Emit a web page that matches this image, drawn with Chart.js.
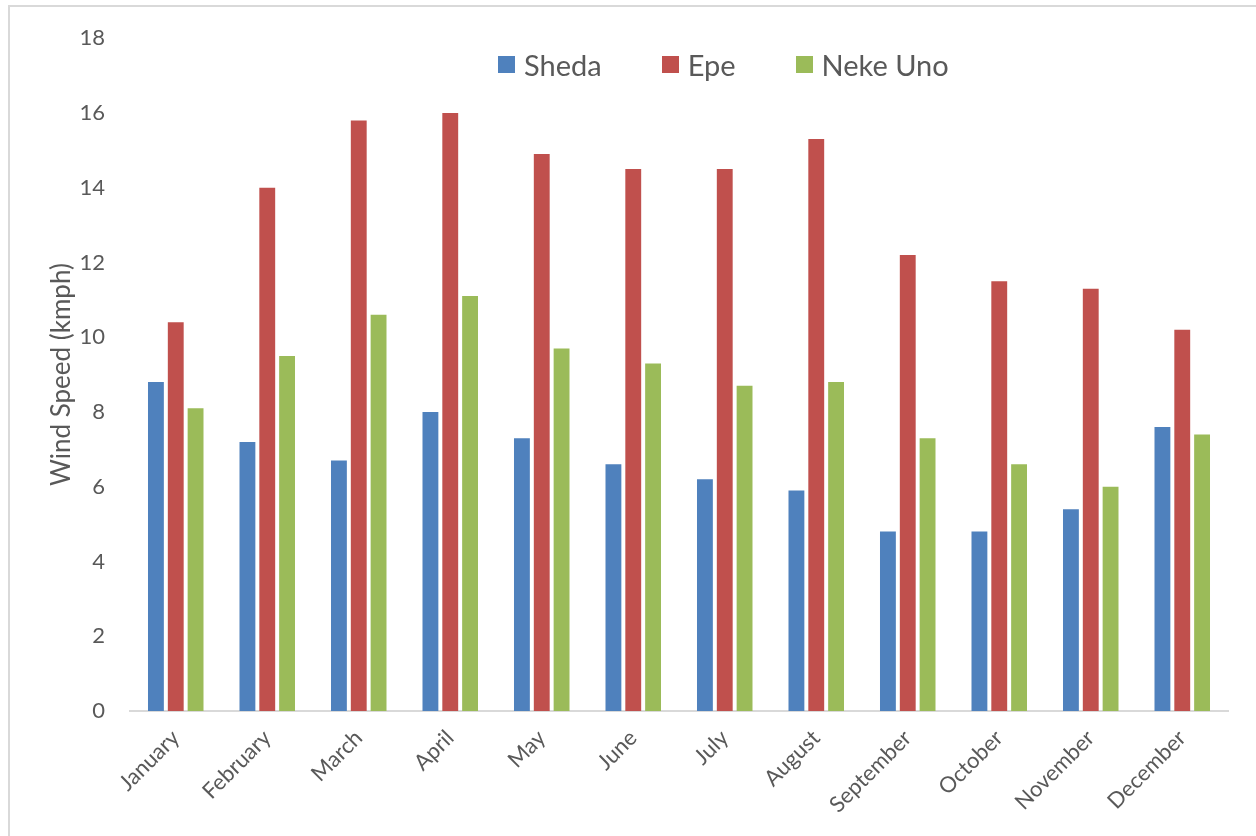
<!DOCTYPE html>
<html>
<head>
<meta charset="utf-8">
<script src="https://cdn.jsdelivr.net/npm/chart.js@4.4.1/dist/chart.umd.min.js"></script>
<style>
    html, body { margin: 0; padding: 0; background: #fff; overflow: hidden; }
    #frame {
        position: absolute; left: 8px; top: 5px; width: 1400px; height: 1000px;
        border: 2px solid #d9d9d9; box-sizing: border-box;
    }
    #windChart { position: absolute; left: 0; top: 0; }
    #legend {
        position: absolute; left: 498px; top: 47px; display: flex; align-items: center;
        font-family: Lato, "Open Sans", sans-serif; font-size: 29px; color: #595959;
    }
    #legend .item { display: flex; align-items: center; margin-right: 60px; }
    #legend .box { width: 17px; height: 17px; margin-right: 9px; }
</style>
</head>
<body>
<div id="frame"></div>
<canvas id="windChart" width="1256" height="836"></canvas>
<div id="legend"></div>
<script>
// Data
const months = ['January', 'February', 'March', 'April', 'May', 'June',
    'July', 'August', 'September', 'October', 'November', 'December'];
const sheda = [8.8, 7.2, 6.7, 8.0, 7.3, 6.6, 6.2, 5.9, 4.8, 4.8, 5.4, 7.6];
const epe = [10.4, 14.0, 15.8, 16.0, 14.9, 14.5, 14.5, 15.3, 12.2, 11.5, 11.3, 10.2];
const nekeUno = [8.1, 9.5, 10.6, 11.1, 9.7, 9.3, 8.7, 8.8, 7.3, 6.6, 6.0, 7.4];
const yTicks = [0, 2, 4, 6, 8, 10, 12, 14, 16, 18];

const seriesNames = ['Sheda', 'Epe', 'Neke Uno'];
const seriesColors = ['#4f81bd', '#c0504d', '#9bbb59'];
const textColor = '#595959';
const fontFamily = 'Lato, "Open Sans", sans-serif';

const datasets = [sheda, epe, nekeUno].map((values, i) => ({
    label: seriesNames[i],
    data: values,
    backgroundColor: seriesColors[i],
    categoryPercentage: 0.65,
    barPercentage: 0.8
}));

// Grafiek
const ctx = document.getElementById('windChart').getContext('2d');
new Chart(ctx, {
    type: 'bar',
    data: {
        labels: months,
        datasets: datasets
    },
    options: {
        responsive: false,
        animation: false,
        layout: { padding: { top: 36, right: 28, left: 0, bottom: 0 } },
        plugins: {
            legend: { display: false },
            tooltip: { enabled: false }
        },
        scales: {
            x: {
                grid: { display: false, drawTicks: false },
                border: { display: true, color: '#d9d9d9', width: 2 },
                ticks: {
                    color: textColor,
                    font: { family: fontFamily, size: 22 },
                    maxRotation: 45,
                    minRotation: 45,
                    padding: 14
                },
                afterFit: scale => { scale.height = 125; }
            },
            y: {
                min: 0,
                max: 18,
                grid: { display: false, drawTicks: false },
                border: { display: false },
                afterBuildTicks: scale => {
                    scale.ticks = yTicks.map(v => ({ value: v }));
                },
                ticks: {
                    color: textColor,
                    font: { family: fontFamily, size: 22 },
                    padding: 25
                },
                title: {
                    display: true,
                    text: 'Wind Speed (kmph)',
                    color: textColor,
                    font: { family: fontFamily, size: 26 },
                    padding: { top: 46, bottom: 0 }
                },
                afterFit: scale => { scale.width = 130; }
            }
        }
    }
});

// Legenda
const legend = document.getElementById('legend');
seriesNames.forEach((name, i) => {
    const item = document.createElement('div');
    item.className = 'item';
    const box = document.createElement('span');
    box.className = 'box';
    box.style.background = seriesColors[i];
    const label = document.createElement('span');
    label.textContent = name;
    item.appendChild(box);
    item.appendChild(label);
    legend.appendChild(item);
});
</script>
</body>
</html>
